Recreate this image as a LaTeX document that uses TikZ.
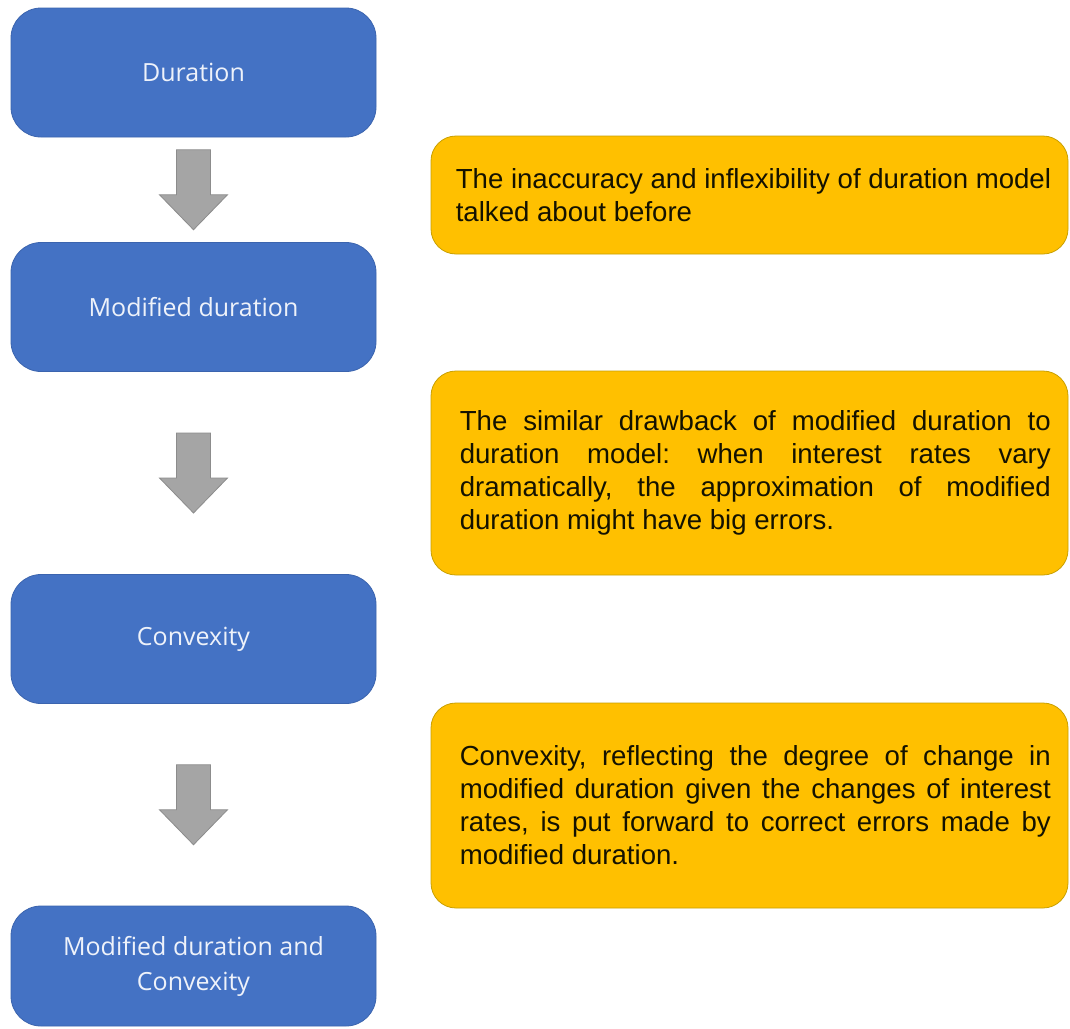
\documentclass[tikz,border=0pt]{standalone}
\usepackage{fontspec}
\setmainfont{Liberation Sans}
\newfontfamily\boxfont{Open Sans}
\usetikzlibrary{calc}
\definecolor{bluefill}{HTML}{4472C4}
\definecolor{blueedge}{HTML}{3B64AE}
\definecolor{orfill}{HTML}{FFC000}
\definecolor{oredge}{HTML}{C9A000}
\definecolor{arrfill}{HTML}{A5A5A5}
\definecolor{arredge}{HTML}{8C8C8C}
\definecolor{notetxt}{HTML}{141200}
\definecolor{stagetxt}{HTML}{EEF2FA}
\begin{document}
\begin{tikzpicture}[x=1pt,y=-1pt,
  stagebox/.style={draw=blueedge, line width=0.8pt, fill=bluefill, rounded corners=30pt,
    minimum width=365pt, minimum height=129pt, text=stagetxt,
    font=\boxfont\fontsize{25}{35}\selectfont, align=center, inner sep=0pt},
  notebox/.style={draw=oredge, line width=0.8pt, fill=orfill, rounded corners=25pt,
    minimum width=637pt, inner sep=0pt},
  notetext/.style={anchor=west, text=notetxt, font=\fontsize{27.6}{33}\selectfont\frenchspacing,
    inner sep=0pt, align=left},
  blockarrow/.style={draw=arredge, fill=arrfill, line width=0.8pt, line join=miter}]
\useasboundingbox[fill=white] (0,0) rectangle (1070,1028);

% stages
\node[stagebox] (d1) at (193.5,72.5) {Duration};
\node[stagebox] (d2) at (193.5,307) {Modified duration};
\node[stagebox] (d3) at (193.5,639) {Convexity};
\node[stagebox, minimum height=120pt] (d4) at (193.5,966) {Modified duration and\\Convexity};

% notes
\node[notebox, minimum height=118pt] (na) at (749.5,195) {};
\node[notebox, minimum height=204pt] (nb) at (749.5,473) {};
\node[notebox, minimum height=205pt] (nc) at (749.5,805.5) {};

\node[notetext] (ta) at ($(na.west)+(25,0)$)
  {The inaccuracy and inflexibility of duration model\\talked about before};
\node[notetext] (tb) at ($(nb.west)+(29,0)$)
  {\makebox[591pt][s]{The similar drawback of modified duration to}\\
   \makebox[591pt][s]{duration model: when interest rates vary}\\
   \makebox[591pt][s]{dramatically, the approximation of modified}\\
   duration might have big errors.};
\node[notetext] (tc) at ($(nc.west)+(29,0)$)
  {\makebox[591pt][s]{Convexity, reflecting the degree of change in}\\
   \makebox[591pt][s]{modified duration given the changes of interest}\\
   \makebox[591pt][s]{rates, is put forward to correct errors made by}\\
   modified duration.};

% block arrows between stages
\coordinate (m1) at ($(d1.south)!0.5!(d2.north)$);
\coordinate (m2) at ($(d2.south)!0.5!(d3.north)$);
\coordinate (m3) at ($(d3.south)!0.5!(d4.north)$);
\foreach \m in {m1,m2,m3}{
  \draw[blockarrow] (\m) ++(-17,-40) -- ++(34,0) -- ++(0,45) -- ++(17,0)
    -- ++(-34,35) -- ++(-34,-35) -- ++(17,0) -- cycle;
}
\end{tikzpicture}
\end{document}
